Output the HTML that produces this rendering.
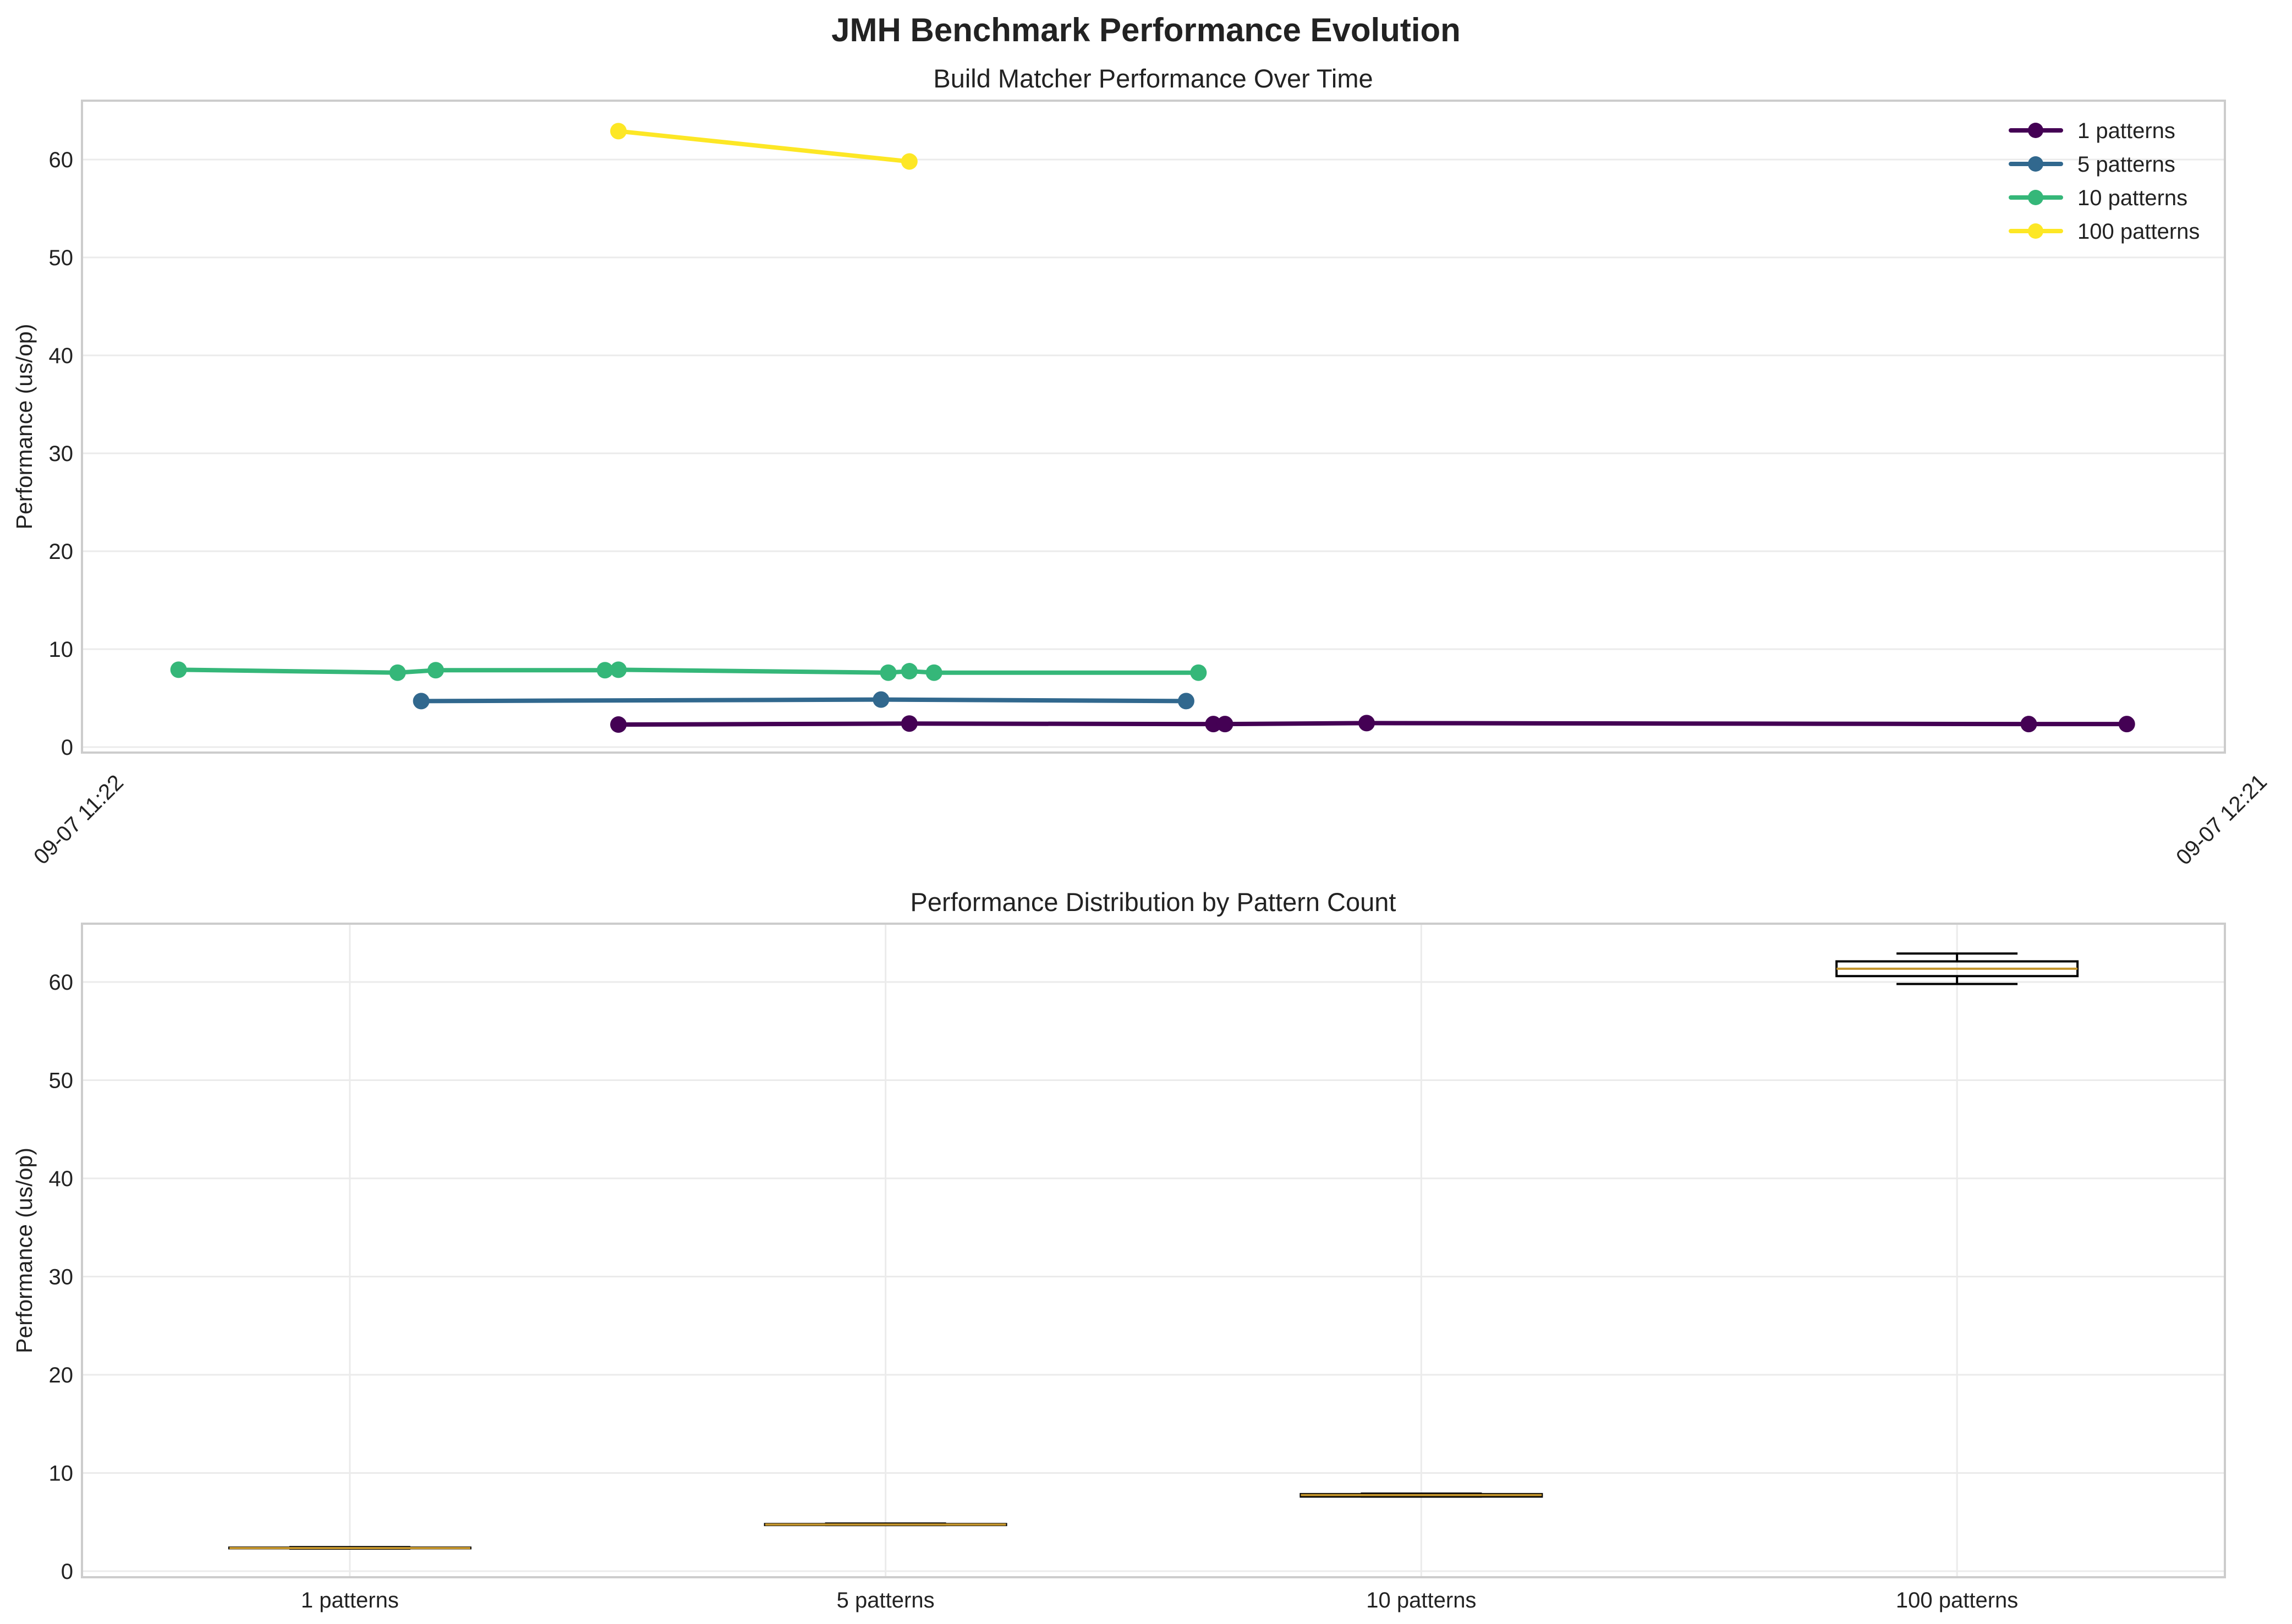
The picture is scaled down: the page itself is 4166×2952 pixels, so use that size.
<!DOCTYPE html>
<html><head><meta charset="utf-8"><style>body{margin:0;background:#fff}svg{display:block;font-family:"Liberation Sans",sans-serif}</style></head>
<body>
<svg id="fig" width="4166" height="2952" xmlns="http://www.w3.org/2000/svg">
<rect width="4166" height="2952" fill="#fff"/>
<text x="2083" y="75" text-anchor="middle" font-size="60" font-weight="bold" fill="#222">JMH Benchmark Performance Evolution</text>
<text x="2096" y="159" text-anchor="middle" font-size="47" fill="#222">Build Matcher Performance Over Time</text>
<text x="2096" y="1656" text-anchor="middle" font-size="47" fill="#222">Performance Distribution by Pattern Count</text>
<g id="topchart"></g>
<g id="botchart"></g>
</svg>
<script>
const seriesNames=["1 patterns","5 patterns","10 patterns","100 patterns"];
const seriesColors=["#440154","#31688e","#35b779","#fde725"];
const t1=[14.77,22.78,31.15,31.47,35.37,53.6,56.3];
const v1=[2.3,2.4,2.35,2.35,2.45,2.35,2.35];
const t5=[9.34,22.0,30.4];
const v5=[4.7,4.85,4.7];
const t10=[2.66,8.69,9.74,14.4,14.77,22.2,22.78,23.46,30.74];
const v10=[7.9,7.6,7.85,7.85,7.9,7.6,7.75,7.6,7.6];
const t100=[14.77,22.78];
const v100=[62.9,59.8];
const yTicks=[0,10,20,30,40,50,60];
const xTickLabels=["09-07 11:22","09-07 12:21"];
const xTickMinutes=[0,59];
const boxCats=["1 patterns","5 patterns","10 patterns","100 patterns"];
const boxMin=[2.3,4.7,7.6,59.8];
const boxQ1=[2.33,4.7,7.6,60.6];
const boxMed=[2.35,4.75,7.75,61.35];
const boxQ3=[2.4,4.8,7.85,62.1];
const boxMax=[2.45,4.85,7.9,62.9];

const NS="http://www.w3.org/2000/svg";
function mk(p,tag,a){const e=document.createElementNS(NS,tag);for(const k in a)e.setAttribute(k,a[k]);p.appendChild(e);return e;}
const L=149,R=4044;
const topG=document.getElementById('topchart');
const T0=183,T1=1368;
const ty=v=>1358-(v)*17.8;
const tx=m=>L+(m/59)*(R-L);
for(const v of yTicks){
 const g=mk(topG,'line',{x1:L,x2:R,y1:ty(v),y2:ty(v),stroke:'#ebebeb','stroke-width':3});
 
 
 const t=mk(topG,'text',{x:L-16,y:ty(v)+14,'text-anchor':'end','font-size':40,fill:'#222'});t.textContent=v;
 
 
}
xTickMinutes.forEach((m,i)=>{
 const x=tx(m)-6,y=1490;
 const t=mk(topG,'text',{x:x,y:y,'text-anchor':'middle','dominant-baseline':'central','font-size':40,fill:'#222',transform:`rotate(-45 ${x} ${y})`});
 t.textContent=xTickLabels[i];
 
 
});
const yl=mk(topG,'text',{x:58,y:(T0+T1)/2,'text-anchor':'middle','font-size':41,fill:'#222',transform:`rotate(-90 58 ${(T0+T1)/2})`});
yl.textContent='Performance (us/op)';


const sets=[[t1,v1],[t5,v5],[t10,v10],[t100,v100]];
sets.forEach(([ts,vs],i)=>{
 const g=mk(topG,'g',{});
 
 
 mk(g,'polyline',{points:ts.map((t,j)=>tx(t)+','+ty(vs[j])).join(' '),fill:'none',stroke:seriesColors[i],'stroke-width':8,'stroke-linejoin':'round'});
 ts.forEach((t,j)=>{const c=mk(g,'circle',{cx:tx(t),cy:ty(vs[j]),r:15,fill:seriesColors[i]});
  
  });
});
mk(topG,'rect',{x:L,y:T0,width:R-L,height:T1-T0,fill:'none',stroke:'#ccc','stroke-width':4});
seriesNames.forEach((n,i)=>{
 const y=237+i*61;
 const g=mk(topG,'g',{});
 
 
 mk(g,'line',{x1:3655,x2:3746,y1:y,y2:y,stroke:seriesColors[i],'stroke-width':8,'stroke-linecap':'round'});
 mk(g,'circle',{cx:3700,cy:y,r:14,fill:seriesColors[i]});
 const t=mk(g,'text',{x:3776,y:y+14,'font-size':40,fill:'#222'});t.textContent=n;
});
const botG=document.getElementById('botchart');
const B0=1679,B1=2867;
const by=v=>2856-v*17.85;
const bx=p=>L+(p-0.5)*(R-L)/4;
for(const v of yTicks){
 const g=mk(botG,'line',{x1:L,x2:R,y1:by(v),y2:by(v),stroke:'#ebebeb','stroke-width':3});
 
 
 const t=mk(botG,'text',{x:L-16,y:by(v)+14,'text-anchor':'end','font-size':40,fill:'#222'});t.textContent=v;
 
 
}
const yl2=mk(botG,'text',{x:58,y:(B0+B1)/2,'text-anchor':'middle','font-size':41,fill:'#222',transform:`rotate(-90 58 ${(B0+B1)/2})`});
yl2.textContent='Performance (us/op)';


boxCats.forEach((c,i)=>{
 const x=bx(i+1),hw=219,cw=110;
 const gl=mk(botG,'line',{x1:x,x2:x,y1:B0,y2:B1,stroke:'#ebebeb','stroke-width':3});
 
 
 const t=mk(botG,'text',{x:x,y:2922,'text-anchor':'middle','font-size':40,fill:'#222'});t.textContent=c;
 
 
 const g=mk(botG,'g',{stroke:'#000','stroke-width':4,fill:'none'});
 
 
 mk(g,'line',{x1:x,x2:x,y1:by(boxMax[i]),y2:by(boxQ3[i])});
 mk(g,'line',{x1:x,x2:x,y1:by(boxMin[i]),y2:by(boxQ1[i])});
 mk(g,'line',{x1:x-cw,x2:x+cw,y1:by(boxMax[i]),y2:by(boxMax[i])});
 mk(g,'line',{x1:x-cw,x2:x+cw,y1:by(boxMin[i]),y2:by(boxMin[i])});
 mk(g,'rect',{x:x-hw,y:by(boxQ3[i]),width:2*hw,height:Math.max(1,by(boxQ1[i])-by(boxQ3[i]))});
 mk(g,'line',{x1:x-hw,x2:x+hw,y1:by(boxMed[i]),y2:by(boxMed[i]),stroke:'#c4952c','stroke-width':4});
});
mk(botG,'rect',{x:L,y:B0,width:R-L,height:B1-B0,fill:'none',stroke:'#ccc','stroke-width':4});
</script>
</body></html>
